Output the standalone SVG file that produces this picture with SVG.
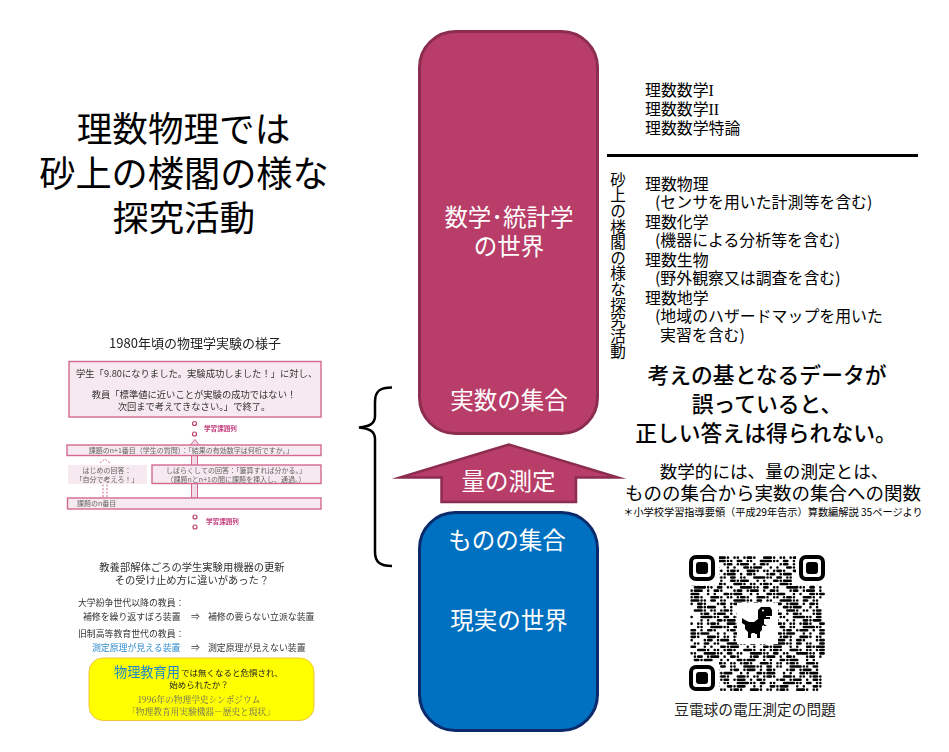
<svg xmlns="http://www.w3.org/2000/svg" width="949" height="752" viewBox="0 0 949 752">
<style>
text{font-family:"Noto Sans CJK JP","Noto Sans",sans-serif;fill:#000}
.w{fill:#fff;text-anchor:middle;font-size:23.5px}
.l{font-size:15.9px}
.r{font-family:"Liberation Serif",serif}
.b{font-size:21.8px;text-anchor:middle;font-weight:500}
.c{text-anchor:middle}
.p{fill:#f6e9ef;stroke:#d4688f;stroke-width:1.4}
.t1{font-size:9.3px;fill:#333}
.t2{font-size:7px;fill:#666}
.t3{font-size:8.9px;fill:#333}
.lb{font-size:6.6px;fill:#c23a7c;font-weight:700}
.o{fill:#fff;stroke:#b9416f;stroke-width:1.2}
.a{stroke-dasharray:0 2 0 1 1 1 0 3 2 1 0 2 0 1}
.d{stroke-dasharray:1 2 0 1 0 3 3 1 0 1 0 2}
.e{stroke-dasharray:0 1 2 2 0 2 1 1 0 4 0 1 1 2}
.f{stroke-dasharray:0 3 1 1 0 1 2 3 0 2}
.q path{stroke:#000;stroke-width:.8;stroke-linecap:round;fill:none}
.fd{fill:none;stroke:#000;stroke-width:4}
</style>
<defs><filter id="s" x="-2%" y="-2%" width="104%" height="104%"><feGaussianBlur stdDeviation="0.3"/></filter></defs>
<rect width="949" height="752" fill="#fff"/>
<g id="title">
<text x="183.500" y="142" style="font-size:35.6px" class="c">理数物理では</text>
<text x="184" y="187" style="font-size:36.2px" class="c">砂上の楼閣の様な</text>
<text x="184" y="231" style="font-size:35.6px" class="c">探究活動</text>
</g>
<g id="math-world">
<rect x="419.500" y="31.500" width="178" height="402" rx="36" fill="#b83d68" stroke="#8c2d50" stroke-width="3"/>
<text class="w" x="509" y="226">数学･統計学</text>
<text class="w" x="509" y="255">の世界</text>
<text class="w" x="509" y="409">実数の集合</text>
</g>
<g id="real-world">
<rect x="419.500" y="512.500" width="178" height="218" rx="36" fill="#0070c0" stroke="#0b2a6b" stroke-width="3"/>
<text class="w" x="507" y="549">ものの集合</text>
<text class="w" x="509" y="629">現実の世界</text>
</g>
<g id="measure">
<path d="M509 444.500L400 477.500H441.500V502H576V477.500H618Z" fill="#b83d68" stroke="#8c2d50" stroke-width="2.500" stroke-miterlimit="12"/>
<text class="w" x="508.500" y="490">量の測定</text>
</g>
<g id="connectors">
<path d="M392 387.500C380 387.500 375 391 375 402V416C375 424 369 426.500 359 427.500C369 428.500 375 431 375 439V552C375 562 380 566 392 566" fill="none" stroke="#000" stroke-width="2.500"/>
<path d="M607 155.500H918" stroke="#000" stroke-width="3"/>
</g>
<g id="list-top">
<text class="l" x="645" y="96">理数数学<tspan class="r">I</tspan></text>
<text class="l" x="645" y="115">理数数学<tspan class="r">II</tspan></text>
<text class="l" x="645" y="134">理数数学特論</text>
</g>
<g id="list-main">
<text class="l" x="645" y="190">理数物理</text>
<text class="l" x="655" y="208">(センサを用いた計測等を含む)</text>
<text class="l" x="645" y="228">理数化学</text>
<text class="l" x="655" y="246">(機器による分析等を含む)</text>
<text class="l" x="645" y="266">理数生物</text>
<text class="l" x="655" y="284">(野外観察又は調査を含む)</text>
<text class="l" x="645" y="304">理数地学</text>
<text class="l" x="655" y="322">(地域のハザードマップを用いた</text>
<text class="l" x="660" y="341">実習を含む)</text>
</g>
<g id="vertical-label">
<text x="618" y="172" style="writing-mode:vertical-rl;font-size:15.600px">砂上の楼閣の様な探究活動</text>
</g>
<g id="message">
<text class="b" x="767" y="383">考えの基となるデータが</text>
<text class="b" x="767" y="412">誤っていると、</text>
<text class="b" x="766" y="441">正しい答えは得られない。</text>
<text class="c" x="774" y="478" style="font-size:17.600px">数学的には、量の測定とは、</text>
<text class="c" x="773" y="500" style="font-size:18.500px">ものの集合から実数の集合への関数</text>
<text class="c" x="773" y="516" style="font-size:10.200px">＊小学校学習指導要領（平成29年告示）算数編解説 35ページより</text>
</g>
<g id="qr">
<g class="q" transform="translate(690 556) scale(3.3)">
<path class="a" d="M.5 .5h40"/><path class="d" d="M.5 1.500h40"/><path class="e" d="M.5 2.500h40" stroke-dashoffset="3"/><path class="f" d="M.5 3.500h40"/><path class="a" d="M.5 4.500h40" stroke-dashoffset="5"/><path class="e" d="M.5 5.500h40" stroke-dashoffset="7"/><path class="d" d="M.5 6.500h40" stroke-dashoffset="2"/><path class="f" d="M.5 7.500h40" stroke-dashoffset="4"/><path class="a" d="M.5 8.500h40" stroke-dashoffset="9"/><path class="d" d="M.5 9.500h40" stroke-dashoffset="6"/>
<path class="e" d="M.5 10.500h40"/><path class="f" d="M.5 11.500h40" stroke-dashoffset="6"/><path class="a" d="M.5 12.500h40" stroke-dashoffset="2"/><path class="d" d="M.5 13.500h40" stroke-dashoffset="8"/><path class="e" d="M.5 14.500h40" stroke-dashoffset="5"/><path class="f" d="M.5 15.500h40" stroke-dashoffset="1"/><path class="a" d="M.5 16.500h40" stroke-dashoffset="7"/><path class="e" d="M.5 17.500h40" stroke-dashoffset="10"/><path class="d" d="M.5 18.500h40" stroke-dashoffset="4"/><path class="f" d="M.5 19.500h40" stroke-dashoffset="8"/>
<path class="a" d="M.5 20.500h40" stroke-dashoffset="11"/><path class="d" d="M.5 21.500h40" stroke-dashoffset="1"/><path class="e" d="M.5 22.500h40" stroke-dashoffset="2"/><path class="f" d="M.5 23.500h40" stroke-dashoffset="3"/><path class="a" d="M.5 24.500h40" stroke-dashoffset="3"/><path class="e" d="M.5 25.500h40" stroke-dashoffset="9"/><path class="d" d="M.5 26.500h40" stroke-dashoffset="10"/><path class="f" d="M.5 27.500h40" stroke-dashoffset="7"/><path class="a" d="M.5 28.500h40" stroke-dashoffset="6"/><path class="d" d="M.5 29.500h40" stroke-dashoffset="3"/>
<path class="e" d="M.5 30.500h40" stroke-dashoffset="12"/><path class="f" d="M.5 31.500h40" stroke-dashoffset="2"/><path class="a" d="M.5 32.500h40" stroke-dashoffset="1"/><path class="d" d="M.5 33.500h40" stroke-dashoffset="5"/><path class="e" d="M.5 34.500h40" stroke-dashoffset="1"/><path class="f" d="M.5 35.500h40" stroke-dashoffset="9"/><path class="a" d="M.5 36.500h40" stroke-dashoffset="8"/><path class="e" d="M.5 37.500h40" stroke-dashoffset="4"/><path class="d" d="M.5 38.500h40" stroke-dashoffset="7"/><path class="f" d="M.5 39.500h40" stroke-dashoffset="5"/><path class="a" d="M.5 40.500h40" stroke-dashoffset="4"/>
</g>
<path d="M686 552h33v33h-33zM796 552h33v33h-33zM686 662h33v33h-33zM737 603h41v41h-41z" fill="#fff"/>
<rect class="fd" x="691" y="557" width="22" height="22" rx="5"/><rect class="fd" x="801" y="557" width="22" height="22" rx="5"/><rect class="fd" x="691" y="667" width="22" height="22" rx="5"/>
<rect x="696" y="562" width="12" height="12" rx="3"/><rect x="806" y="562" width="12" height="12" rx="3"/><rect x="696" y="672" width="12" height="12" rx="3"/>
<path d="M758 610l3-3h9l2 3v6h-6v1h4v2h-6v5l3 2h-3v-1l-2 1v4l-2 2v6h-3v-4h-2v-1h-3l-1 1v4h-3v-6l-3-3v-4l-3-2v-5l3 2 4 2h5l4-3z"/>
<circle cx="763" cy="610.500" r="1" fill="#fff"/>
<text class="c" x="755" y="715" style="font-size:14.700px;fill:#222">豆電球の電圧測定の問題</text>
</g>
<g id="exp-1980" filter="url(#s)">
<text class="c" x="195" y="348" style="font-size:13px;fill:#222">1980年頃の物理学実験の様子</text>
<rect class="p" x="69" y="361.500" width="252" height="55.500"/>
<text class="t1" x="76" y="377">学生「9.80になりました。実験成功しました！」に対し、</text>
<text class="t1 c" x="194" y="398">教員「標準値に近いことが実験の成功ではない！</text>
<text class="t1 c" x="194" y="410">次回まで考えてきなさい。」で終了。</text>
<circle class="o" cx="194.500" cy="423.500" r="2"/><circle class="o" cx="194.500" cy="434" r="2"/>
<text class="lb" x="204" y="431">学習課題列</text>
<path d="M191.500 498V446H189.500L195 439.500L200 446H197.500V498Z" fill="#f2dce5" stroke="#d4688f"/>
<path d="M103 497V468M107 497V468M100 463L105 459L110 463" fill="none" stroke="#d4688f" stroke-dasharray="2 1.500"/>
<rect class="p" x="67" y="445" width="254" height="10.500"/>
<text class="t2 c" x="191" y="453">課題のn+1番目（学生の質問）：「結果の有効数字は何桁ですか。」</text>
<rect x="68" y="465" width="79" height="19" fill="#f6e9ef"/>
<text class="t2 c" x="107" y="473">はじめの回答：</text><text class="t2 c" x="107" y="481.500">「自分で考えろ！」</text>
<rect class="p" x="152" y="465" width="169" height="18.500"/>
<text class="t2 c" x="236" y="473">しばらくしての回答：「筆算すれば分かる。」</text><text class="t2 c" x="236" y="481.500">（課題nとn+1の間に課題を挿入し、通過。）</text>
<rect class="p" x="67.500" y="498" width="253.500" height="11"/>
<text class="t2" x="77" y="506">課題のn番目</text>
<circle class="o" cx="195" cy="517" r="2"/><circle class="o" cx="195" cy="527" r="2"/>
<text class="lb" x="206" y="524">学習課題列</text>
</g>
<g id="equipment" filter="url(#s)">
<text class="t3 c" x="192" y="571" style="font-size:10.300px">教養部解体ごろの学生実験用機器の更新</text>
<text class="t3 c" x="192" y="583.500" style="font-size:10.300px">その受け止め方に違いがあった？</text>
<text class="t3" x="78" y="606">大学紛争世代以降の教員：</text>
<text class="t3" x="83" y="620">補修を繰り返すぼろ装置</text><text class="t3" x="191" y="620">⇒</text><text class="t3" x="208" y="620">補修の要らない立派な装置</text>
<text class="t3" x="78" y="637">旧制高等教育世代の教員：</text>
<text class="t3" x="92" y="651" style="fill:#2e8ccc">測定原理が見える装置</text><text class="t3" x="191" y="651">⇒</text><text class="t3" x="208" y="651">測定原理が見えない装置</text>
</g>
<g id="note" filter="url(#s)">
<rect x="89" y="658" width="225" height="62.500" rx="14" fill="#ffff00" stroke="#f2c43c"/>
<text x="114" y="677" style="font-size:13.200px;fill:#1a86c8">物理教育用</text>
<text x="181" y="676" style="font-size:8.500px;fill:#222">では無くなると危惧され、</text>
<text class="c" x="199" y="687.500" style="font-size:8.500px;fill:#222">始められたか？</text>
<text class="c" x="199" y="703" style="font-size:8.700px;fill:#666;font-family:'Noto Serif CJK JP','Liberation Serif','Noto Sans CJK JP',serif">1996年の物理学史シンポジウム</text>
<text class="c" x="201" y="715" style="font-size:8.700px;fill:#666;font-family:'Noto Serif CJK JP','Liberation Serif','Noto Sans CJK JP',serif">「物理教育用実験機器－歴史と現状」</text>
</g>
</svg>
